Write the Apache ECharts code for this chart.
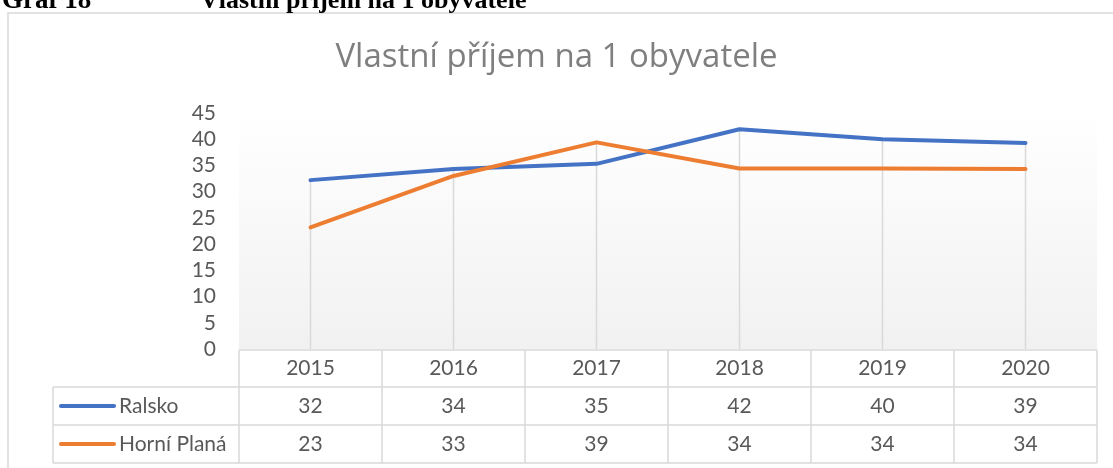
<!DOCTYPE html>
<html>
<head>
<meta charset="utf-8">
<script src="https://cdn.jsdelivr.net/npm/echarts@6/dist/echarts.min.js"></script>
<style>
  html, body { margin: 0; padding: 0; background: #fff; }
  #main { width: 1113px; height: 468px; }
</style>
</head>
<body>
<div id="main"></div>
<script>
  // data
  var years = ['2015', '2016', '2017', '2018', '2019', '2020'];
  var ralsko = [32.2, 34.3, 35.3, 41.9, 40.0, 39.3];
  var horniPlana = [23.2, 33.0, 39.4, 34.4, 34.4, 34.3];
  var seriesNames = ['Ralsko', 'Horní Planá'];
  var colors = ['#4472c4', '#ed7d31'];

  // drop lines go from the higher point to the axis
  var dropData = years.map(function (y, i) {
    return [i, Math.max(ralsko[i], horniPlana[i])];
  });

  var FONT = 'Lato, "Open Sans", sans-serif';
  var chart = echarts.init(document.getElementById('main'));

  var option = {
    animation: false,
    title: {
      text: 'Vlastní příjem na 1 obyvatele',
      left: 'center',
      top: 36,
      textStyle: { fontFamily: '"Open Sans", sans-serif', fontSize: 33, fontWeight: 'normal', color: '#7f7f7f' }
    },
    grid: {
      left: 239, right: 16, top: 113, bottom: 119,
      show: true,
      borderWidth: 0,
      backgroundColor: new echarts.graphic.LinearGradient(0, 0, 0, 1, [
        { offset: 0, color: '#ffffff' },
        { offset: 1, color: '#f1f1f1' }
      ])
    },
    xAxis: {
      type: 'category',
      data: years,
      boundaryGap: true,
      axisLine: { show: false },
      axisTick: { show: false },
      axisLabel: { show: false },
      splitLine: { show: false }
    },
    yAxis: {
      type: 'value',
      min: 0, max: 45, interval: 5,
      axisLine: { show: false },
      axisTick: { show: false },
      splitLine: { show: false },
      axisLabel: { fontFamily: FONT, fontSize: 21, color: '#595959', margin: 23 }
    },
    series: [
      {
        type: 'custom',
        data: dropData,
        encode: { x: 0, y: 1 },
        silent: true,
        z: 1,
        renderItem: function (params, api) {
          var top = api.coord([api.value(0), api.value(1)]);
          var bot = api.coord([api.value(0), 0]);
          return {
            type: 'line',
            shape: { x1: top[0], y1: top[1], x2: bot[0], y2: bot[1] },
            style: { stroke: '#d9d9d9', lineWidth: 1.5 }
          };
        }
      },
      {
        name: seriesNames[0],
        type: 'line',
        data: ralsko,
        showSymbol: false,
        z: 3,
        lineStyle: { color: colors[0], width: 4, cap: 'round', join: 'round' }
      },
      {
        name: seriesNames[1],
        type: 'line',
        data: horniPlana,
        showSymbol: false,
        z: 3,
        lineStyle: { color: colors[1], width: 4, cap: 'round', join: 'round' }
      }
    ]
  };
  chart.setOption(option);

  // data table under the plot, placed on the x axis positions
  var rowTop = [350, 387, 425, 463];
  var tableLeft = 53;
  var lineCol = '#d9d9d9';
  var x0 = chart.convertToPixel({ xAxisIndex: 0 }, 0);
  var x1 = chart.convertToPixel({ xAxisIndex: 0 }, 1);
  var band = x1 - x0;
  var colLeft = x0 - band / 2;
  var colRight = colLeft + band * years.length;
  var els = [];

  function hline(xa, xb, y) {
    els.push({ type: 'line', shape: { x1: xa, y1: y, x2: xb, y2: y }, style: { stroke: lineCol, lineWidth: 1.5 } });
  }
  function vline(x, ya, yb) {
    els.push({ type: 'line', shape: { x1: x, y1: ya, x2: x, y2: yb }, style: { stroke: lineCol, lineWidth: 1.5 } });
  }
  function cellText(txt, x, y, align) {
    els.push({
      type: 'text', x: x, y: y,
      style: { text: txt, font: '21px ' + FONT, fill: '#595959', align: align || 'center', verticalAlign: 'middle' }
    });
  }

  hline(colLeft, colRight, rowTop[0]);
  hline(tableLeft, colRight, rowTop[1]);
  hline(tableLeft, colRight, rowTop[2]);
  hline(tableLeft, colRight, rowTop[3]);
  vline(tableLeft, rowTop[1], rowTop[3]);
  for (var c = 0; c <= years.length; c++) {
    vline(colLeft + band * c, rowTop[0], rowTop[3]);
  }

  var rows = [ralsko, horniPlana];
  years.forEach(function (y, i) {
    var cx = chart.convertToPixel({ xAxisIndex: 0 }, i);
    cellText(y, cx, (rowTop[0] + rowTop[1]) / 2);
    rows.forEach(function (vals, r) {
      cellText(String(Math.round(vals[i])), cx, (rowTop[r + 1] + rowTop[r + 2]) / 2);
    });
  });
  rows.forEach(function (vals, r) {
    var cy = (rowTop[r + 1] + rowTop[r + 2]) / 2;
    els.push({
      type: 'line',
      shape: { x1: 61, y1: cy, x2: 114, y2: cy },
      style: { stroke: colors[r], lineWidth: 4, lineCap: 'round' }
    });
    cellText(seriesNames[r], 119, cy, 'left');
  });

  // chart frame and the caption cut off above it
  els.push({
    type: 'rect', shape: { x: 8, y: 13, width: 1120, height: 470 },
    style: { fill: 'none', stroke: '#d9d9d9', lineWidth: 1.5 }, z: -1
  });
  els.push({
    type: 'text', x: 2, y: 1,
    style: { text: 'Graf 18', font: 'bold 27px "Liberation Serif", serif', fill: '#000', verticalAlign: 'middle' }
  });
  els.push({
    type: 'text', x: 200, y: 1,
    style: { text: 'Vlastní příjem na 1 obyvatele', font: 'bold 26px "Liberation Serif", serif', fill: '#000', verticalAlign: 'middle' }
  });

  chart.setOption({ graphic: { elements: els } });
</script>
</body>
</html>
